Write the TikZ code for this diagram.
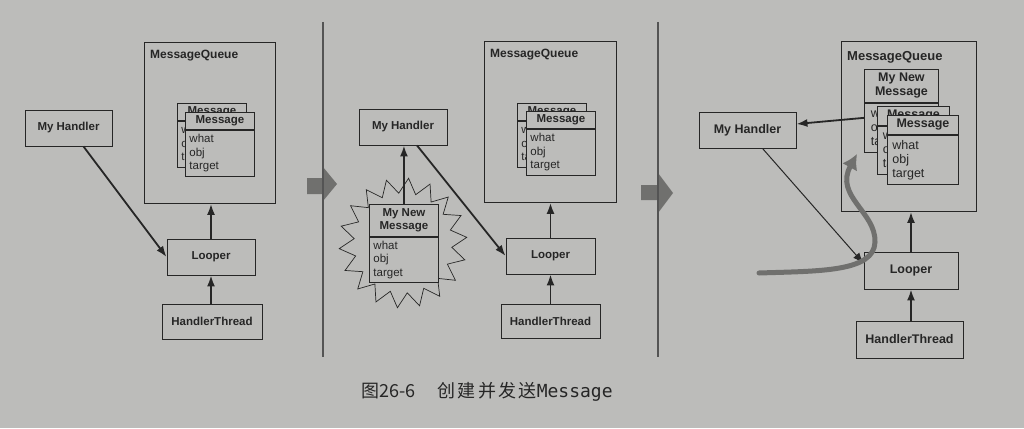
\documentclass[tikz,border=0pt]{standalone}
\usepackage{fontspec}
\setmainfont{Liberation Sans}
\newfontfamily\cjk{Noto Sans CJK SC}
\newfontfamily\cjkwide[LetterSpace=13]{Noto Sans CJK SC}
\newfontfamily\codefont{DejaVu Sans Mono}
\usetikzlibrary{positioning,arrows.meta}
\definecolor{paper}{RGB}{188,188,186}
\definecolor{ink}{RGB}{38,38,38}
\definecolor{marker}{RGB}{112,112,110}
\definecolor{rule}{RGB}{84,84,84}
\tikzset{
    block/.style = {draw=ink, fill=paper, rectangle, line width=0.9pt,
        inner sep=0pt, text=ink, align=center,
        font=\fontsize{11.5}{13.5}\selectfont\bfseries},
    queue/.style = {block, anchor=north west},
    cardhead/.style = {block, anchor=north west, minimum width=69pt, minimum height=17pt},
    cardbody/.style = {block, minimum width=69pt, minimum height=46pt,
        text width=61pt, align=left, font=\fontsize{11.5}{13.5}\selectfont},
    big/.style = {font=\fontsize{12.5}{14}\selectfont\bfseries},
    bigbody/.style = {font=\fontsize{12.5}{14}\selectfont},
    title/.style = {anchor=north west, inner xsep=6pt, inner ysep=8pt, text=ink,
        font=\fontsize{12}{14}\selectfont\bfseries},
    arrow/.style = {draw=ink, line width=1.8pt, -{Latex[length=11pt,width=8pt]}},
    thin arrow/.style = {arrow, line width=1pt},
    panelarrow/.style = {fill=marker, draw=none},
    separator/.style = {draw=rule, line width=1.2pt}
}
% message card: header node (#2h) and body node (#2b)
\newcommand{\msgcard}[5][]{%
    \node [cardhead, #1] (#2h) at (#3) {#4};
    \node [cardbody, below=0pt of #2h, #5] (#2b) {what\\obj\\target};
}

\begin{document}
\begin{tikzpicture}[x=1pt, y=-1pt]
    \fill [paper] (0,0) rectangle (1024,428);
    \useasboundingbox (0,0) rectangle (1024,428);

    % panel 1
    \node [queue, minimum width=131pt, minimum height=161pt,
        label={[title]north west:MessageQueue}] (mq1) at (144,42) {};
    \msgcard{back1}{177,103}{Message}{}
    \msgcard{msg1}{185,112}{Message}{}
    \node [block, minimum width=87pt, minimum height=36pt] (hand1) at (68.5,128) {My Handler};
    \node [block, minimum width=88pt, minimum height=36pt] (loop1) at (211,257) {Looper};
    \node [block, minimum width=100pt, minimum height=35pt] (thread1) at (212,321.5) {HandlerThread};
    \draw [arrow] ([xshift=15pt]hand1.south) -- (loop1.west);
    \draw [arrow] (loop1.north) -- (loop1.north |- mq1.south);
    \draw [arrow] (thread1.north -| loop1) -- (loop1.south);

    % panel 2
    \node [queue, minimum width=132pt, minimum height=161pt,
        label={[title]north west:MessageQueue}] (mq2) at (484,41) {};
    \msgcard{back2}{517,103}{Message}{}
    \msgcard{msg2}{526,111}{Message}{}
    \node [block, minimum width=88pt, minimum height=36pt] (hand2) at (403,127) {My Handler};
    \draw [ink, fill=paper, line width=0.7pt]
        plot [domain=0:36, samples=37, variable=\k]
        ({403+(mod(\k,2)==0 ? 64 : 49)*cos(\k*10+95)}, {243+(mod(\k,2)==0 ? 65 : 50)*sin(\k*10+95)}) -- cycle;
    \msgcard[minimum height=32pt]{new2}{369,204}{My New\\Message}{minimum height=45pt}
    \node [block, minimum width=89pt, minimum height=36pt] (loop2) at (550.5,256) {Looper};
    \node [block, minimum width=99pt, minimum height=34pt] (thread2) at (550.5,321) {HandlerThread};
    \draw [arrow] (new2h.north) -- (new2h.north |- hand2.south);
    \draw [arrow] ([xshift=14pt]hand2.south) -- (loop2.west);
    \draw [arrow] (loop2.north) -- (loop2.north |- mq2.south);
    \draw [arrow] (thread2.north -| loop2) -- (loop2.south);

    % panel 3
    \node [queue, minimum width=135pt, minimum height=170pt,
        label={[title, inner ysep=10pt, font=\fontsize{13}{15}\selectfont\bfseries]north west:MessageQueue}] (mq3) at (841,41) {};
    \msgcard[big, minimum width=74pt, minimum height=33pt]{new3}{864,69}{My New\\Message}{bigbody, minimum width=74pt, minimum height=49pt}
    \msgcard[big, minimum width=72pt, minimum height=19pt]{back3}{877,106}{Message}{bigbody, minimum width=72pt, minimum height=48pt}
    \msgcard[big, minimum width=71pt, minimum height=19pt]{msg3}{887,115}{Message}{bigbody, minimum width=71pt, minimum height=49pt}
    \node [block, big, minimum width=97pt, minimum height=36pt] (hand3) at (747.5,130) {My Handler};
    \node [block, big, minimum width=94pt, minimum height=37pt] (loop3) at (911,270.5) {Looper};
    \node [block, big, minimum width=107pt, minimum height=37pt] (thread3) at (909.5,339.5) {HandlerThread};
    \draw [arrow] ([yshift=10pt]new3b.west) -- ([yshift=6pt]hand3.east);
    \draw [thin arrow] ([xshift=15pt]hand3.south) -- ([yshift=7pt]loop3.west);
    \draw [arrow] (loop3.north) -- (loop3.north |- mq3.south);
    \draw [arrow] (thread3.north -| loop3) -- (loop3.south);
    \draw [marker, line width=5pt, line cap=round, -{Latex[length=15pt,width=17pt]}]
        (759,273) .. controls (820,271) and (874,272) .. (875,242)
        .. controls (876,212) and (834,196) .. (857,154);

    % arrows between the panels
    \fill [panelarrow] (307,178) -- (323,178) -- (323,167) -- (337,184)
        -- (323,201) -- (323,194) -- (307,194) -- cycle;
    \fill [panelarrow] (641,185) -- (658,185) -- (658,173) -- (673,193)
        -- (658,213) -- (658,200) -- (641,200) -- cycle;
    \draw [separator] (323,22) -- (323,357);
    \draw [separator] (658,22) -- (658,357);

    % caption
    \node [anchor=base west, inner sep=0pt, text=ink] (caption) at (361,397)
        {\fontsize{18}{20}\selectfont\cjk 图26-6\hspace{22pt}{\cjkwide 创建并发送}{\codefont Message}};
\end{tikzpicture}
\end{document}
